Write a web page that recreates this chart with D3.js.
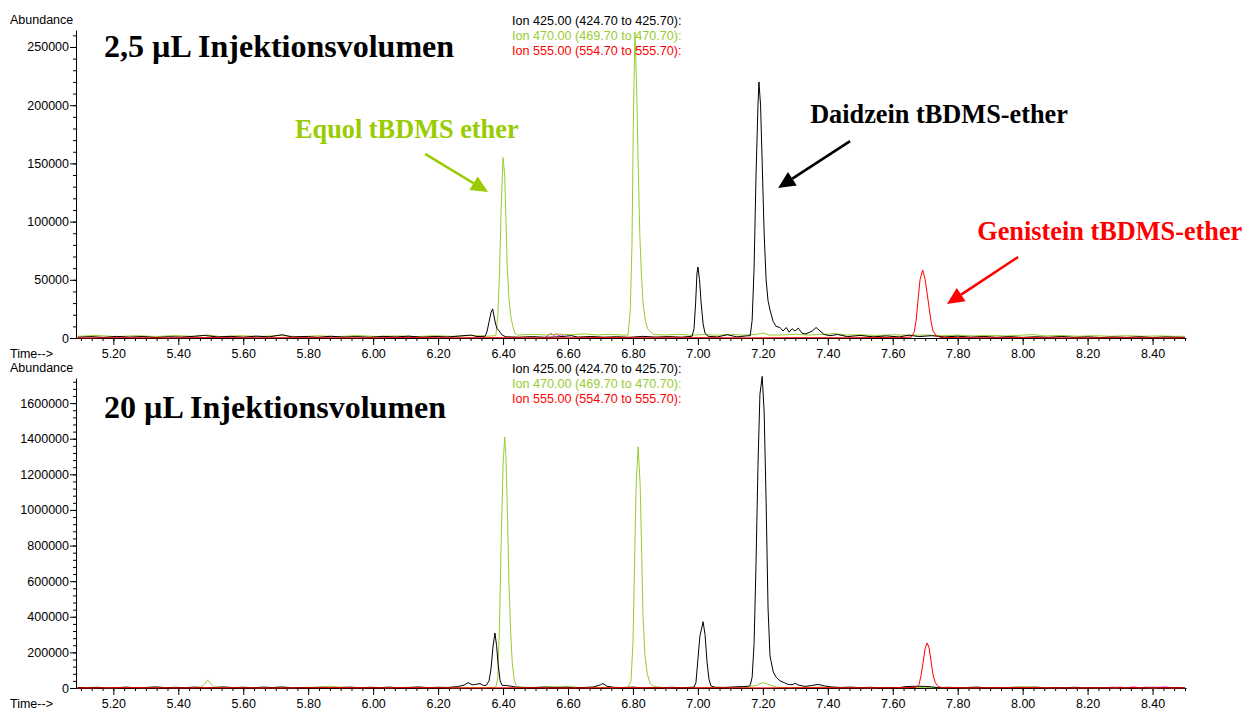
<!DOCTYPE html>
<html><head><meta charset="utf-8">
<script src="https://cdn.jsdelivr.net/npm/d3@7"></script>
<style>
body{margin:0;background:#fff;}
svg{display:block;}
</style></head><body>
<svg id="chart" width="1246" height="711"></svg>
<script>
// ---------- DATA ----------
const ionLabels = ["Ion 425.00 (424.70 to 425.70):", "Ion 470.00 (469.70 to 470.70):", "Ion 555.00 (554.70 to 555.70):"];
const panelTitles = ["2,5 µL Injektionsvolumen", "20 µL Injektionsvolumen"];
const xTicks = [5.20,5.40,5.60,5.80,6.00,6.20,6.40,6.60,6.80,7.00,7.20,7.40,7.60,7.80,8.00,8.20,8.40];
const yTicksTop = [0,50000,100000,150000,200000,250000];
const yTicksBottom = [0,200000,400000,600000,800000,1000000,1200000,1400000,1600000];

// Ion 425 (black) – 2,5 µL
const black25 = [
[5.09,600],[5.13,1200],[5.17,500],[5.21,1400],[5.25,700],[5.29,1300],[5.33,400],[5.37,1100],[5.41,800],[5.45,1500],[5.48,2200],[5.52,900],[5.56,1400],[5.60,700],[5.64,1600],[5.68,1000],[5.72,2800],[5.75,900],[5.79,1300],[5.83,600],[5.87,1500],[5.91,800],[5.95,1200],[5.99,600],[6.03,1400],[6.07,900],[6.11,1600],[6.15,700],[6.19,1300],[6.23,900],[6.27,1800],[6.30,2500],[6.32,1200],
[6.345,1500],[6.351,6000],[6.357,14000],[6.363,22000],[6.368,25000],[6.372,19000],[6.377,12000],[6.382,8000],[6.388,6000],[6.397,2500],[6.409,1000],
[6.45,700],[6.49,1200],[6.53,600],[6.57,1000],[6.61,2000],[6.63,800],[6.67,1300],[6.71,700],[6.75,1100],[6.79,600],[6.83,1400],[6.87,800],[6.91,1200],[6.95,700],
[6.982,1500],[6.988,8000],[6.993,30000],[6.997,55000],[7.000,61000],[7.005,50000],[7.010,30000],[7.016,12000],[7.022,4000],[7.031,1500],
[7.06,900],[7.09,2800],[7.12,1000],[7.15,1800],
[7.161,2000],[7.167,15000],[7.173,60000],[7.179,140000],[7.185,200000],[7.188,220000],[7.193,200000],[7.198,150000],[7.204,90000],[7.210,50000],[7.216,32000],[7.222,24000],[7.232,14000],[7.241,10000],[7.253,9000],[7.262,6000],[7.272,9000],[7.281,5000],[7.290,8000],[7.299,6000],[7.309,8500],[7.321,4000],[7.333,3500],[7.352,6000],[7.364,9000],[7.376,6000],[7.389,3000],[7.407,2000],
[7.43,3000],[7.46,1200],[7.50,2200],[7.54,1000],[7.58,1800],[7.62,900],[7.65,2500],[7.68,1200],[7.72,2000],[7.76,900],[7.80,1600],[7.84,700],[7.88,1300],[7.92,600],[7.96,1200],[8.00,500],[8.04,1100],[8.08,600],[8.12,1300],[8.16,500],[8.20,1000],[8.24,400],[8.28,900],[8.32,500],[8.36,1100],[8.40,400],[8.44,900],[8.48,600],[8.50,500]
];
// Ion 470 (green) – 2,5 µL
const green25 = [
[5.09,1500],[5.15,2200],[5.21,1200],[5.27,2000],[5.33,1300],[5.39,2100],[5.45,1400],[5.49,2600],[5.53,1200],[5.59,2000],[5.65,1300],[5.71,2200],[5.77,1100],[5.83,1900],[5.89,1200],[5.95,2100],[6.01,1300],[6.07,1800],[6.13,1200],[6.19,2000],[6.25,1400],[6.31,2200],[6.35,1500],
[6.378,2000],[6.384,20000],[6.389,55000],[6.394,110000],[6.400,155000],[6.405,140000],[6.409,100000],[6.413,60000],[6.418,35000],[6.423,20000],[6.430,10000],[6.437,4000],[6.445,2500],
[6.49,3200],[6.53,2600],[6.57,3400],[6.61,2800],[6.65,3500],[6.69,2600],[6.73,3200],[6.76,2600],
[6.785,2500],[6.792,25000],[6.797,80000],[6.801,180000],[6.806,263000],[6.811,220000],[6.816,150000],[6.821,90000],[6.826,55000],[6.831,30000],[6.838,15000],[6.845,8000],[6.855,5000],[6.864,3000],
[6.90,2600],[6.94,3200],[6.98,2400],[7.02,3000],[7.06,2400],[7.10,3200],[7.14,2500],[7.18,3000],[7.20,4300],[7.22,2500],[7.26,2600],[7.30,3200],[7.34,2500],[7.38,3000],[7.42,3800],[7.46,2600],[7.50,2800],[7.55,2200],[7.60,2800],[7.65,2300],[7.70,2600],[7.75,2000],[7.80,2500],[7.85,1800],[7.90,2300],[7.95,1800],[8.00,2400],[8.03,3000],[8.07,1800],[8.12,2200],[8.17,1500],[8.22,2000],[8.27,1500],[8.32,2000],[8.37,1500],[8.42,1800],[8.47,1400],[8.50,1500]
];
// Ion 555 (red) – 2,5 µL
const red25 = [
[5.09,0],[5.20,300],[5.35,100],[5.50,400],[5.65,200],[5.80,300],[5.95,100],[6.10,400],[6.25,200],[6.40,300],[6.55,100],[6.70,400],[6.85,200],[7.00,300],[7.15,100],[7.30,300],[7.45,200],[7.55,400],[7.62,300],
[7.657,800],[7.666,5000],[7.672,15000],[7.678,33000],[7.684,50000],[7.692,58400],[7.700,50000],[7.706,38000],[7.712,26000],[7.718,14000],[7.724,6000],[7.734,2000],[7.746,500],
[7.85,200],[8.00,400],[8.15,100],[8.30,300],[8.45,200],[8.50,100]
];
// other trace (magenta) – 2,5 µL
const magenta25 = [[6.530,500],[6.540,2600],[6.548,3800],[6.556,2200],[6.564,3500],[6.572,2000],[6.580,3000],[6.588,600]];

// Ion 425 (black) – 20 µL
const black20 = [
[5.09,3000],[5.12,1000],[5.15,4000],[5.18,500],[5.21,2000],[5.24,5000],[5.27,1000],[5.30,3000],[5.33,6000],[5.36,1500],[5.39,4000],[5.42,2000],[5.45,5000],[5.48,1000],[5.51,3000],[5.54,6000],[5.57,2000],[5.60,4000],[5.63,1000],[5.66,5000],[5.69,2500],[5.72,6000],[5.75,1000],[5.78,3000],[5.81,1500],[5.84,4000],[5.87,1000],[5.90,3000],[5.93,5000],[5.96,1500],[5.99,4000],[6.02,2000],[6.05,5000],[6.08,1000],[6.11,3000],[6.14,6000],[6.17,2000],[6.20,4000],[6.23,3000],[6.26,8000],
[6.280,16000],[6.292,30000],[6.305,18000],[6.315,20000],[6.329,25000],[6.340,14000],
[6.348,15000],[6.357,40000],[6.363,110000],[6.369,230000],[6.375,309000],[6.380,240000],[6.385,130000],[6.391,40000],[6.397,15000],
[6.41,14000],[6.425,10000],[6.44,5000],[6.47,2000],[6.50,3000],[6.53,5000],[6.56,2000],[6.59,4000],[6.62,1500],[6.65,3000],[6.68,6000],[6.70,18000],[6.708,25000],[6.72,10000],[6.74,4000],[6.77,2000],[6.80,5000],[6.83,1000],[6.86,3000],[6.89,1500],[6.92,4000],[6.95,1000],[6.97,3000],
[6.988,5000],[6.994,30000],[7.000,160000],[7.006,290000],[7.016,372000],[7.022,300000],[7.028,150000],[7.034,50000],[7.040,12000],[7.052,4000],
[7.08,3000],[7.11,6000],[7.14,8000],[7.155,10000],
[7.161,15000],[7.167,60000],[7.173,250000],[7.179,700000],[7.185,1250000],[7.191,1650000],[7.198,1750000],[7.204,1550000],[7.210,1050000],[7.216,450000],[7.222,180000],[7.232,90000],[7.241,60000],[7.253,40000],[7.266,30000],[7.278,20000],
[7.29,18000],[7.30,26000],[7.31,16000],[7.33,9000],[7.35,14000],[7.37,20000],[7.39,12000],[7.41,6000],[7.44,3000],[7.47,5000],[7.50,1500],[7.53,4000],[7.56,1000],[7.59,3000],[7.62,2000],[7.64,8000],[7.67,10000],[7.70,9000],[7.72,6000],[7.74,2000],[7.77,4000],[7.80,1000],[7.83,3000],[7.86,5000],[7.89,1000],[7.92,3000],[7.95,1500],[7.98,4000],[8.01,2000],[8.04,5000],[8.07,1000],[8.10,3000],[8.13,1500],[8.16,4000],[8.19,1000],[8.22,3000],[8.25,2000],[8.28,4000],[8.31,1000],[8.34,3000],[8.37,1500],[8.40,4000],[8.43,2000],[8.46,3000],[8.50,1000]
];
// Ion 470 (green) – 20 µL
const green20 = [
[5.09,2000],[5.14,4000],[5.19,1000],[5.24,3000],[5.29,1500],[5.34,4000],[5.39,2000],[5.44,3000],[5.47,5000],[5.48,20000],[5.49,45000],[5.50,25000],[5.51,5000],[5.55,2000],[5.60,4000],[5.65,1500],[5.70,3000],[5.75,2000],[5.80,4000],[5.84,6000],[5.87,10000],[5.90,4000],[5.95,2000],[6.00,3000],[6.05,1500],[6.10,4000],[6.15,2000],[6.20,3000],[6.25,1500],[6.30,3000],[6.35,2000],
[6.378,5000],[6.384,60000],[6.389,350000],[6.394,800000],[6.400,1250000],[6.405,1410000],[6.409,1300000],[6.414,950000],[6.418,600000],[6.423,330000],[6.428,150000],[6.434,50000],[6.440,15000],[6.449,5000],
[6.50,3000],[6.55,8000],[6.58,6000],[6.60,9000],[6.63,4000],[6.66,2000],[6.70,3000],[6.75,1500],
[6.785,5000],[6.794,40000],[6.800,250000],[6.805,700000],[6.810,1150000],[6.816,1354000],[6.822,1150000],[6.827,750000],[6.831,400000],[6.837,180000],[6.844,80000],[6.853,25000],[6.865,8000],
[6.90,1500],[6.95,3000],[7.00,2000],[7.05,4000],[7.10,2000],[7.15,5000],[7.18,15000],[7.20,30000],[7.22,18000],[7.24,5000],[7.28,2000],[7.33,3000],[7.38,5000],[7.43,2000],[7.48,3000],[7.53,1500],[7.58,3000],[7.63,2000],[7.68,3000],[7.73,1500],[7.78,2500],[7.83,1500],[7.88,2500],[7.93,2000],[7.98,5000],[8.01,8000],[8.04,3000],[8.09,1500],[8.14,2500],[8.19,1500],[8.24,2000],[8.29,1500],[8.34,2500],[8.39,1500],[8.44,2000],[8.50,1500]
];
// Ion 555 (red) – 20 µL
const red20 = [
[5.09,0],[5.25,2000],[5.40,500],[5.55,1500],[5.70,0],[5.85,2000],[6.00,1000],[6.15,2000],[6.30,500],[6.45,1500],[6.60,0],[6.75,2000],[6.90,1000],[7.05,1500],[7.20,500],[7.35,2000],[7.50,1000],[7.60,1500],
[7.672,3000],[7.681,20000],[7.687,70000],[7.694,150000],[7.700,225000],[7.706,253000],[7.712,225000],[7.718,150000],[7.724,75000],[7.731,30000],[7.740,8000],[7.752,2000],
[7.85,1000],[8.00,2000],[8.15,500],[8.30,1500],[8.45,1000],[8.50,500]
];
// other trace (magenta) – 20 µL
const magenta20 = [[8.28,0],[8.30,5000],[8.32,1000],[8.34,6000],[8.36,2000],[8.38,5000],[8.40,1000],[8.42,4000],[8.44,6000],[8.46,1000],[8.48,4000]];

// annotation texts
const annoTexts = ["Equol tBDMS ether", "Daidzein tBDMS-ether", "Genistein tBDMS-ether"];

// ---------- LAYOUT ----------
const svg = d3.select("#chart");
const LEFT = 76, RIGHT = 1186;
const sans = "'Liberation Sans', Arial, sans-serif";
const serif = "'Liberation Serif', 'Times New Roman', serif";
const COL = {black:"#000000", green:"#99cc33", red:"#ff0000", magenta:"#ff00ff"};
const ionColors = [COL.black, COL.green, COL.red];
const greenText = "#99cc00";

const x = d3.scaleLinear().domain([5.085, 8.503]).range([LEFT, RIGHT]);

const panels = [
  {top:30, base:338, max:264600, ticks:yTicksTop, minor:10000, title:panelTitles[0],
   series:[[magenta25,COL.magenta],[green25,COL.green],[black25,COL.black],[red25,COL.red]]},
  {top:378, base:688, max:1741000, ticks:yTicksBottom, minor:40000, title:panelTitles[1],
   series:[[magenta20,COL.magenta],[green20,COL.green],[black20,COL.black],[red20,COL.red]]}
];

const minorX = d3.range(5.10, 8.51, 0.2/6).filter(v => v <= 8.503);

panels.forEach((p, i) => {
  const y = d3.scaleLinear().domain([0, p.max]).range([p.base, p.top]);
  p.y = y;
  const g = svg.append("g");

  g.append("g").attr("transform", `translate(0,${p.base})`)
    .call(d3.axisBottom(x).tickValues(minorX).tickSize(3).tickFormat(""))
    .call(a => a.select(".domain").remove());
  g.append("g").attr("transform", `translate(0,${p.base})`)
    .call(d3.axisBottom(x).tickValues(xTicks).tickSize(7).tickSizeOuter(0).tickPadding(4).tickFormat(d3.format(".2f")))
    .call(a => a.selectAll("text").attr("font-family", sans).attr("font-size", "12.5px").attr("fill", "#000"));

  const minorY = d3.range(0, p.max, p.minor);
  g.append("g").attr("transform", `translate(${LEFT},0)`)
    .call(d3.axisLeft(y).tickValues(minorY).tickSize(3).tickFormat(""))
    .call(a => a.select(".domain").remove());
  g.append("g").attr("transform", `translate(${LEFT},0)`)
    .call(d3.axisLeft(y).tickValues(p.ticks).tickSize(6).tickSizeOuter(0).tickPadding(1).tickFormat(d3.format("d")))
    .call(a => a.selectAll("text").attr("font-family", sans).attr("font-size", "12.5px").attr("fill", "#000"));

  g.append("text").attr("x", 10).attr("y", p.base + 20).attr("font-family", sans).attr("font-size", "12.5px").text("Time-->");
  g.append("text").attr("x", 10).attr("y", p.top - 6).attr("font-family", sans).attr("font-size", "12.5px").text("Abundance");

  const line = d3.line().x(d => x(d[0])).y(d => y(d[1]));
  p.series.forEach(([data, color]) => {
    g.append("path").datum(data).attr("d", line)
      .attr("fill", "none").attr("stroke", color).attr("stroke-width", 1).attr("stroke-linejoin", "round");
  });

  ionLabels.forEach((t, k) => {
    g.append("text").attr("x", 512).attr("y", p.top - 5 + k * 15)
      .attr("font-family", sans).attr("font-size", "12.6px").attr("fill", ionColors[k]).text(t);
  });

  g.append("text").attr("x", 104).attr("y", p.top + 27 + (i === 1 ? 13 : 0))
    .attr("font-family", serif).attr("font-weight", "bold").attr("font-size", "32px").attr("fill", "#000").text(p.title);
});

// ---------- ANNOTATIONS (top panel, data units) ----------
const yT = panels[0].y;
const annos = [
  {text:annoTexts[0], color:greenText, tx:5.7595, ty:171800, from:[6.160,158100], to:[6.354,125400]},
  {text:annoTexts[1], color:"#000000", tx:7.3456, ty:184700, from:[7.4687,169200], to:[7.247,128900]},
  {text:annoTexts[2], color:"#ff0000", tx:7.860, ty:84200, from:[7.986,69600], to:[7.767,29200]}
];
annos.forEach(a => {
  svg.append("text").attr("x", x(a.tx)).attr("y", yT(a.ty))
    .attr("font-family", serif).attr("font-weight", "bold").attr("font-size", "26.3px")
    .attr("fill", a.color).text(a.text);
  const x1 = x(a.from[0]), y1 = yT(a.from[1]), x2 = x(a.to[0]), y2 = yT(a.to[1]);
  const ang = Math.atan2(y2 - y1, x2 - x1);
  const hl = 17, hw = 8;
  const bx = x2 - hl * Math.cos(ang), by = y2 - hl * Math.sin(ang);
  svg.append("line").attr("x1", x1).attr("y1", y1).attr("x2", bx).attr("y2", by)
    .attr("stroke", a.color).attr("stroke-width", 2.6);
  const px = -Math.sin(ang), py = Math.cos(ang);
  svg.append("path")
    .attr("d", `M${x2},${y2}L${bx + px*hw},${by + py*hw}L${bx - px*hw},${by - py*hw}Z`)
    .attr("fill", a.color);
});
</script>
</body></html>
